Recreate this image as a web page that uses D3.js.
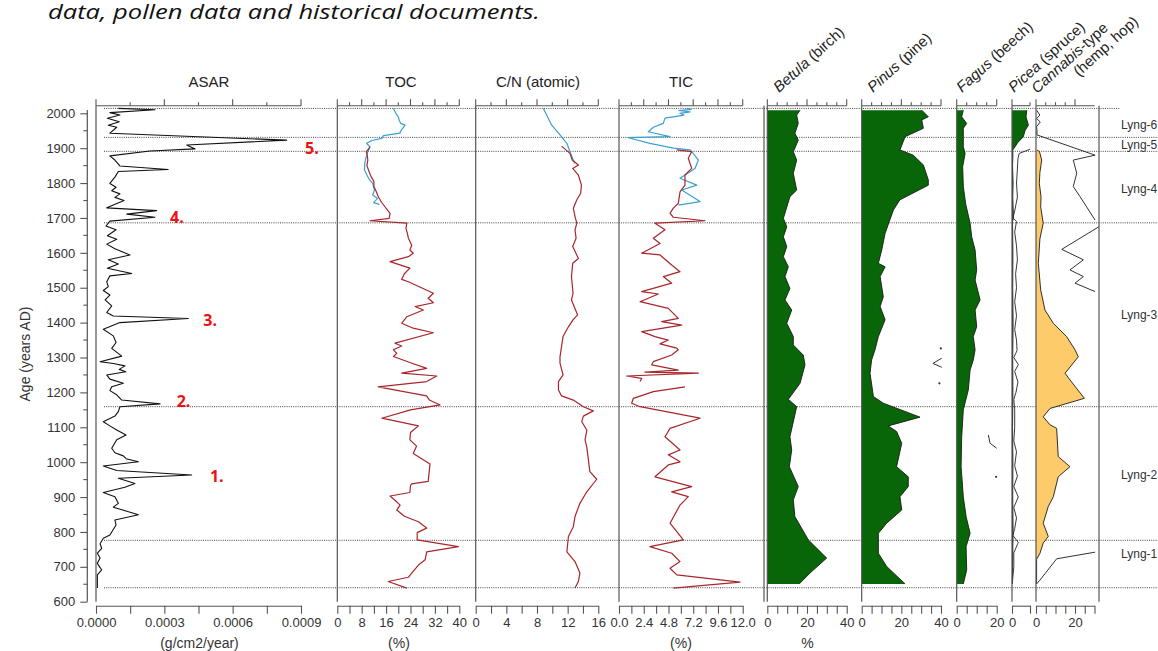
<!DOCTYPE html>
<html><head><meta charset="utf-8">
<script src="https://cdn.jsdelivr.net/npm/d3@7"></script>
<style>body{margin:0;background:#fff} svg{display:block}</style>
</head><body><svg id="c" width="1158" height="651"></svg>
<script>
// ---------------- DATA ----------------
const ageTicks = [600,700,800,900,1000,1100,1200,1300,1400,1500,1600,1700,1800,1900,2000];
const zoneAges = [2014, 1931, 1891, 1686, 1159, 776, 640];
const zoneNames = ["Lyng-6","Lyng-5","Lyng-4","Lyng-3","Lyng-2","Lyng-1"];
const zoneLabelAges = [1966, 1909, 1785, 1422, 963, 737];
const eventNames = ["1.","2.","3.","4.","5."];
const eventAges = [944, 1159, 1390, 1686, 1883];
const eventAsar = [0.00050, 0.000354, 0.000471, 0.000325, 0.000918];

// ASAR (g/cm2/year, in units of 1e-4)
const asar = [[2014,0.98],[2010,2.59],[2002,0.61],[1995,1.05],[1986,0.50],[1976,1.02],[1966,0.54],[1960,0.91],[1943,0.61],[1923,8.37],[1909,3.98],[1898,4.35],[1892,2.37],[1878,0.61],[1866,0.83],[1849,1.05],[1839,3.17],[1833,0.98],[1817,0.83],[1799,0.61],[1788,0.88],[1778,0.69],[1769,1.05],[1759,0.83],[1750,1.23],[1737,0.76],[1729,0.47],[1721,2.66],[1711,1.35],[1702,2.59],[1691,0.61],[1677,0.44],[1666,0.88],[1649,0.50],[1639,0.91],[1625,0.47],[1612,0.83],[1594,1.49],[1580,0.54],[1568,0.98],[1556,0.50],[1541,1.57],[1534,0.61],[1517,0.47],[1503,0.54],[1492,0.32],[1479,0.61],[1465,0.40],[1448,0.69],[1429,0.47],[1419,0.76],[1412,4.05],[1400,1.05],[1381,0.32],[1362,0.76],[1343,0.88],[1326,0.69],[1304,1.13],[1288,0.18],[1283,0.76],[1276,1.27],[1266,1.02],[1259,1.31],[1250,0.47],[1238,0.61],[1226,1.20],[1216,0.69],[1205,0.61],[1193,0.91],[1178,1.13],[1167,2.81],[1159,1.05],[1145,0.98],[1132,0.83],[1116,0.32],[1104,0.61],[1092,0.91],[1078,1.32],[1064,0.91],[1040,0.69],[1027,0.83],[1018,1.20],[1010,1.32],[1001,1.86],[989,0.32],[976,0.91],[963,4.20],[954,0.98],[939,1.71],[928,1.27],[913,0.32],[901,0.83],[882,0.98],[871,0.76],[849,1.86],[834,0.83],[820,0.88],[791,0.61],[782,0.32],[766,0.18],[753,0.25],[739,0.06],[725,0.18],[710,0.06],[691,0.25],[677,0.06],[639,0.06]];

// TOC (%)
const tocBlue = [[2014,18.4],[2000,19.2],[1990,20.0],[1980,20.3],[1971,20.8],[1966,22.2],[1947,20.6],[1943,20.6],[1936,15.1],[1928,14.6],[1922,11.3],[1914,9.6],[1904,10.7],[1890,10.0],[1870,9.3],[1855,9.0],[1838,8.9],[1823,9.7],[1810,10.5],[1799,11.6],[1780,12.2],[1766,11.6],[1756,13.2],[1744,11.9],[1739,13.8]];
const tocRed = [[1904,10.7],[1897,10.2],[1890,9.5],[1880,9.8],[1866,10.0],[1850,9.7],[1838,10.2],[1820,11.0],[1805,12.0],[1790,12.0],[1775,12.8],[1760,13.5],[1745,14.5],[1730,15.8],[1713,17.3],[1699,17.0],[1692,10.7],[1685,22.8],[1670,22.5],[1655,23.0],[1642,23.3],[1622,24.4],[1608,23.8],[1599,24.9],[1589,23.3],[1575,17.3],[1556,23.8],[1540,22.0],[1524,21.1],[1517,23.3],[1484,31.5],[1470,29.8],[1457,31.5],[1446,25.5],[1436,28.2],[1417,22.8],[1398,21.1],[1384,24.9],[1371,31.5],[1341,18.9],[1333,21.1],[1322,18.4],[1312,19.5],[1303,18.4],[1285,24.0],[1269,29.3],[1255,21.1],[1247,32.6],[1231,29.3],[1216,13.4],[1190,29.3],[1178,30.2],[1164,33.7],[1150,24.0],[1126,14.6],[1104,26.6],[1085,24.0],[1064,23.8],[1046,26.0],[1025,24.9],[995,30.4],[945,29.8],[938,24.4],[933,24.0],[913,23.8],[903,17.3],[890,19.0],[877,20.6],[863,19.5],[845,22.0],[829,26.6],[811,29.3],[798,26.2],[777,26.2],[758,39.7],[743,29.3],[720,28.8],[705,26.6],[682,24.4],[670,23.3],[658,16.7],[639,22.8]];

// C/N (atomic)
const cnBlue = [[2014,8.83],[1995,9.26],[1966,9.92],[1938,11.0],[1914,11.9],[1890,12.3],[1866,12.74],[1857,12.9]];
const cnRed = [[1906,11.2],[1885,12.3],[1866,12.6],[1852,13.4],[1842,12.66],[1823,13.4],[1794,13.8],[1771,13.7],[1752,13.2],[1728,12.74],[1704,12.96],[1685,13.2],[1666,12.96],[1642,13.1],[1618,12.66],[1584,13.4],[1570,12.66],[1532,12.5],[1484,12.7],[1465,12.5],[1422,13.3],[1408,12.7],[1388,12.1],[1360,11.4],[1331,11.2],[1302,11.0],[1284,11.0],[1250,11.4],[1231,10.8],[1207,10.8],[1190,11.2],[1178,12.74],[1159,14.05],[1147,15.35],[1132,14.05],[1116,13.84],[1092,14.5],[1064,14.27],[1043,14.5],[973,14.9],[951,15.8],[915,14.5],[882,13.6],[844,12.96],[815,12.74],[787,12.1],[743,11.9],[715,12.96],[682,13.6],[658,13.4],[639,12.96]];

// TIC (%)
const ticBlue = [[2014,6.56],[2011,7.0],[2008,5.8],[2004,6.9],[2000,5.9],[1995,6.3],[1990,5.27],[1986,4.46],[1971,4.30],[1960,3.33],[1947,2.84],[1933,4.95],[1930,0.9],[1914,3.0],[1900,5.27],[1895,6.89],[1885,7.2],[1866,7.7],[1842,7.37],[1814,5.92],[1794,7.54],[1780,6.08],[1747,7.86],[1737,5.75]];
const ticRed = [[1895,5.6],[1890,7.05],[1871,6.72],[1842,7.05],[1823,6.4],[1794,6.4],[1775,5.92],[1742,5.75],[1728,5.27],[1713,4.95],[1702,5.27],[1692,8.34],[1685,3.49],[1666,4.46],[1642,3.33],[1627,3.98],[1599,2.2],[1594,3.98],[1565,5.11],[1546,5.92],[1532,4.30],[1513,5.11],[1489,2.2],[1482,3.81],[1460,2.04],[1441,4.78],[1412,5.75],[1403,4.14],[1393,6.08],[1374,2.2],[1360,3.49],[1350,4.78],[1339,3.98],[1327,5.6],[1322,5.75],[1307,5.11],[1288,3.33],[1279,3.17],[1264,5.75],[1258,2.52],[1255,7.7],[1247,0.75],[1240,2.2],[1231,2.04],[1225,null],[1216,6.4],[1202,3.33],[1183,1.39],[1169,1.23],[1159,2.04],[1126,7.86],[1097,4.95],[1073,4.46],[1035,5.92],[1021,4.78],[1001,5.92],[992,4.78],[958,3.49],[930,7.05],[915,5.11],[901,6.72],[877,5.92],[825,4.95],[777,6.24],[758,3.0],[739,5.11],[715,5.92],[696,4.95],[677,5.6],[656,11.74],[639,5.27]];

// Pollen (%)
const betula = [[2009,16.5],[1995,14.8],[1971,15.6],[1943,13.9],[1923,15.6],[1890,13.1],[1866,14.8],[1828,13.1],[1780,14.8],[1761,11.4],[1699,8.1],[1675,9.8],[1646,8.1],[1618,9.8],[1589,8.1],[1560,10.6],[1532,8.9],[1498,11.4],[1465,8.9],[1436,12.3],[1398,9.8],[1360,13.1],[1336,13.1],[1307,18.1],[1279,19.0],[1226,16.5],[1180,10.6],[1159,14.8],[1073,11.4],[1035,12.3],[987,11.1],[930,15.6],[892,13.1],[844,13.9],[777,20.7],[725,29.9],[682,21.5],[651,16.1]];
const pinus = [[2009,30.3],[1990,33.6],[1981,30.3],[1957,31.1],[1933,21.9],[1895,19.3],[1880,26.0],[1852,31.1],[1809,33.6],[1794,33.6],[1752,19.3],[1723,16.0],[1656,11.8],[1608,10.1],[1570,8.4],[1560,11.8],[1532,9.3],[1474,10.9],[1446,9.3],[1408,11.8],[1360,8.4],[1322,6.7],[1293,5.0],[1255,4.2],[1188,5.9],[1169,10.9],[1129,29.4],[1104,13.4],[1088,17.6],[1054,20.2],[987,17.6],[958,23.5],[930,23.5],[901,19.3],[863,20.2],[825,12.6],[796,8.4],[739,8.4],[701,12.6],[651,21.9]];
const fagus = [[2009,3.3],[1990,2.5],[1971,5.0],[1957,3.3],[1904,3.3],[1885,4.2],[1847,3.0],[1790,3.3],[1740,4.5],[1685,6.7],[1646,7.5],[1608,9.2],[1551,10.0],[1522,9.2],[1465,11.7],[1436,9.2],[1388,10.0],[1360,8.3],[1322,9.2],[1293,8.3],[1264,6.7],[1207,5.8],[1150,3.3],[1073,2.5],[987,2.2],[901,3.3],[844,4.7],[796,6.7],[758,4.7],[691,5.0],[651,3.3]];
const picea = [[2009,8.2],[1990,7.8],[1975,8.6],[1966,9.1],[1950,7.2],[1933,6.3],[1915,3.0],[1904,1.7],[1895,0.4],[1880,0.5],[1850,0.3],[1800,0.6],[1760,0.4],[1700,0.8],[1690,0.3],[1600,0.5],[1500,0.4],[1400,0.6],[1300,0.4],[1200,0.5],[1100,0.3],[1000,0.5],[900,0.4],[800,0.6],[700,0.3],[651,0.2]];
const cannabis = [[1895,0.5],[1890,1.8],[1885,2.05],[1866,2.9],[1830,2.0],[1799,1.7],[1760,2.6],[1732,2.4],[1685,3.7],[1640,2.0],[1570,1.2],[1494,2.4],[1436,4.6],[1398,8.9],[1360,15.7],[1322,20.0],[1302,21.7],[1255,14.9],[1236,17.4],[1183,24.8],[1154,7.2],[1130,3.7],[1107,7.2],[1097,10.6],[1016,11.4],[987,17.4],[958,11.4],[901,8.9],[873,6.3],[825,3.7],[787,6.3],[768,3.7],[739,2.05],[721,0.3],[700,0.3],[651,0.3]];

// Exaggeration curves (thin black lines)
const piceaExag = [[1897,10],[1885,4],[1870,3.3],[1840,3],[1800,2.5],[1760,3],[1720,1.5],[1700,0.5],[1690,2.5],[1660,1.5],[1620,2.5],[1580,3],[1540,2],[1500,2.5],[1460,1.5],[1420,2.5],[1380,1.5],[1350,2.5],[1320,2.8],[1300,1],[1280,3.5],[1260,1.5],[1230,3.3],[1200,2.2],[1180,1],[1150,1.5],[1100,1.5],[1060,1],[1030,2.5],[990,1.5],[960,3],[930,1],[900,3.5],[870,1],[840,2.5],[810,1.5],[790,0.5],[770,3.5],[740,1],[700,1],[660,0.3],[651,0]];
const cannabisExag = [[2009,0.3],[1995,2.0],[1985,0.3],[1975,2.2],[1962,0.3],[1950,0.5],[1938,0.5],[1880,30.3],[1866,19.1],[1828,20.9],[1790,19.1],[1761,22.6],[1694,30.3],[1685,null],[1675,32.3],[1610,13.2],[1580,24.3],[1551,17.4],[1532,24.3],[1513,20.0],[1489,30.3],[1000,null],[742,30.3],[723,10.6],[662,2.05],[651,0.3]];
const pinusExag = [[1298,40.4],[1283,35.9],[1272,40.4]];
const pinusDots = [[1326,39.9],[1226,39.2]];
const fagusExag = [[1078,15.8],[1054,16.7],[1040,20.0]];
const fagusDots = [[958,19.7]];

// ---------------- LAYOUT ----------------
const svg = d3.select("#c");
const FONT = "'Liberation Sans', Arial, sans-serif";
const y = d3.scaleLinear().domain([600,2000]).range([601.7,113.3]);
const TOP = 105.7, BOT = y(600), AXB = 605.7;
const RED = "#a8262b", BLUE = "#3ba0cf", GREEN = "#086508", YELLOW = "#fecb6b";

const P = {
  asar:{dom:[0,0.0009], rng:[96,301], n:6, every:2, fmt:d3.format(".4f")},
  toc:{dom:[0,40], rng:[337.3,459.3], n:10, every:2, fmt:d3.format("d")},
  cn:{dom:[0,16], rng:[475.7,598.3], n:8, every:2, fmt:d3.format("d")},
  tic:{dom:[0,12], rng:[619,742.7], n:10, every:2, fmt:d3.format(".1f")},
  betula:{dom:[0,40], rng:[767.3,846.7], n:8, every:4, fmt:d3.format("d")},
  pinus:{dom:[0,40], rng:[861.7,941], n:8, every:4, fmt:d3.format("d")},
  fagus:{dom:[0,20], rng:[956.7,996.7], n:4, every:4, fmt:d3.format("d")},
  picea:{dom:[0,10], rng:[1012,1030], n:1, every:2, fmt:d3.format("d")},
  cannabis:{dom:[0,30], rng:[1036,1094.5], n:6, every:4, topN:4, fmt:d3.format("d")}
};
for (const k in P) P[k].x = d3.scaleLinear().domain(P[k].dom).range(P[k].rng);

// title fragment
svg.append("text").attr("x",48).attr("y",19)
  .attr("font-family","'Open Sans', 'Noto Sans', sans-serif").attr("font-style","italic")
  .attr("font-size",20).attr("fill","#111")
  .attr("textLength",492).attr("lengthAdjust","spacingAndGlyphs")
  .text("data, pollen data and historical documents.");

// zone dotted lines
const gz = svg.append("g");
zoneAges.forEach((a,i)=>{
  gz.append("line").attr("x1",104).attr("x2", i===0?1120:1158)
    .attr("y1",y(a)).attr("y2",y(a))
    .attr("stroke","#444").attr("stroke-width",1).attr("stroke-dasharray","1,1.2");
});

function lineFor(p, data, scaleV){
  return d3.line().defined(d=>d[1]!==null)
    .x(d=>p.x(d[1]*(scaleV||1))).y(d=>y(d[0]))(data);
}
function areaFor(p, data){
  return d3.area().x0(p.x(0)).x1(d=>p.x(d[1])).y(d=>y(d[0]))(data);
}

const defs = svg.append("defs");
["cannabis","picea"].forEach(k=>{
  defs.append("clipPath").attr("id","clip-"+k).append("rect")
    .attr("x",P[k].x(0)).attr("y",TOP).attr("width",(k==="cannabis"?1099:P[k].rng[1]+3)-P[k].x(0)).attr("height",BOT-TOP);
});

// ASAR
svg.append("path").attr("d",lineFor(P.asar, asar, 1e-4)).attr("fill","none")
  .attr("stroke","#111").attr("stroke-width",1.1).attr("stroke-linejoin","round");

// TOC, C/N, TIC
[[P.toc,tocBlue,BLUE],[P.toc,tocRed,RED],[P.cn,cnBlue,BLUE],[P.cn,cnRed,RED],[P.tic,ticBlue,BLUE],[P.tic,ticRed,RED]]
.forEach(([p,d,c])=>{
  svg.append("path").attr("d",lineFor(p,d)).attr("fill","none")
    .attr("stroke",c).attr("stroke-width",1.2).attr("stroke-linejoin","round");
});

// pollen areas
[[P.betula,betula,GREEN],[P.pinus,pinus,GREEN],[P.fagus,fagus,GREEN],[P.picea,picea,GREEN],[P.cannabis,cannabis,YELLOW]]
.forEach(([p,d,c])=>{
  svg.append("path").attr("d",areaFor(p,d)).attr("fill",c).attr("stroke","none");
  svg.append("path").attr("d",lineFor(p,d)).attr("fill","none").attr("stroke","#1a1a1a").attr("stroke-width",0.9);
});

// exaggeration curves
svg.append("path").attr("d",lineFor(P.picea,piceaExag)).attr("fill","none").attr("stroke","#222").attr("stroke-width",0.9).attr("clip-path","url(#clip-picea)");
svg.append("path").attr("d",lineFor(P.cannabis,cannabisExag)).attr("fill","none").attr("stroke","#333").attr("stroke-width",1).attr("clip-path","url(#clip-cannabis)");
svg.append("path").attr("d",lineFor(P.pinus,pinusExag)).attr("fill","none").attr("stroke","#333").attr("stroke-width",1);
svg.append("path").attr("d",lineFor(P.fagus,fagusExag)).attr("fill","none").attr("stroke","#333").attr("stroke-width",1);
[[P.pinus,pinusDots],[P.fagus,fagusDots]].forEach(([p,d])=>{
  svg.selectAll(null).data(d).enter().append("circle")
    .attr("cx",e=>p.x(e[1])).attr("cy",e=>y(e[0])).attr("r",1.1).attr("fill","#333");
});

// panel vertical lines
const vlines = [P.asar.x(0), P.toc.x(0), P.cn.x(0), P.tic.x(0), 764, P.betula.x(0), P.pinus.x(0), P.fagus.x(0), P.picea.x(0), P.cannabis.x(0), 1099];
vlines.forEach(x=>{
  svg.append("line").attr("x1",x).attr("x2",x).attr("y1",TOP).attr("y2",BOT)
    .attr("stroke","#555").attr("stroke-width",1.2);
});

// panel axes
for (const k in P){
  const p = P[k];
  const step = (p.dom[1]-p.dom[0])/p.n;
  const ticks = d3.range(p.n+1).map(i=>p.dom[0]+i*step);
  const topTicks = p.topN!==undefined ? ticks.slice(0,p.topN+1) : ticks;
  const g = svg.append("g").attr("stroke","#555").attr("stroke-width",1.1);
  g.append("line").attr("x1",p.rng[0]).attr("x2",p.rng[1]).attr("y1",TOP).attr("y2",TOP);
  topTicks.forEach((t,i)=>{
    const len = (i%p.every===0)?6.5:3.5;
    g.append("line").attr("x1",p.x(t)).attr("x2",p.x(t)).attr("y1",TOP).attr("y2",TOP-len);
  });
  const ax = d3.axisBottom(p.x).tickValues(ticks).tickSize(8).tickSizeOuter(0).tickPadding(4)
    .tickFormat((d,i)=> i%p.every===0 ? p.fmt(d) : "");
  const gb = svg.append("g").attr("transform",`translate(0,${AXB})`).call(ax);
  gb.select(".domain").attr("stroke","#555").attr("stroke-width",1.1);
  gb.selectAll(".tick line").attr("stroke","#555").attr("stroke-width",1.1);
  gb.selectAll(".tick text").attr("font-family",FONT).attr("font-size",13).attr("fill","#333");
}

// left age axis
const ay = d3.axisLeft(y).tickValues(ageTicks).tickSize(7).tickSizeOuter(0).tickPadding(5).tickFormat(d3.format("d"));
const gy = svg.append("g").attr("transform","translate(87.3,0)").call(ay);
gy.select(".domain").remove();
gy.append("line").attr("x1",0).attr("x2",0).attr("y1",110).attr("y2",BOT).attr("stroke","#555").attr("stroke-width",1.2);
gy.selectAll(".tick line").attr("stroke","#555").attr("stroke-width",1.1);
gy.selectAll(".tick text").attr("font-family",FONT).attr("font-size",13).attr("fill","#333");
gy.selectAll(null).data(d3.range(650,2000,100)).enter().append("line")
  .attr("x1",0).attr("x2",-4).attr("y1",d=>y(d)).attr("y2",d=>y(d)).attr("stroke","#555").attr("stroke-width",1.1);
svg.append("text").attr("transform",`translate(30,${y(1310)}) rotate(-90)`)
  .attr("text-anchor","middle").attr("font-family",FONT).attr("font-size",14).attr("fill","#333")
  .text("Age (years AD)");

// headers
const headers = [["ASAR",209],["TOC",401],["C/N (atomic)",538],["TIC",681]];
headers.forEach(([t,cx])=>{
  svg.append("text").attr("x",cx).attr("y",87)
    .attr("text-anchor","middle").attr("font-family",FONT).attr("font-size",15).attr("fill","#222").text(t);
});

// pollen labels (rotated)
const pollenLabels = [["Betula"," (birch)",779,93],["Pinus"," (pine)",873,93],["Fagus"," (beech)",962,93],["Picea"," (spruce)",1014,93],["Cannabis","-type",1037,94]];
pollenLabels.forEach(([it,rest,x0,y0])=>{
  const t = svg.append("text").attr("transform",`translate(${x0},${y0}) rotate(-42)`)
    .attr("font-family",FONT).attr("font-size",15).attr("fill","#222");
  t.append("tspan").attr("font-style","italic").text(it);
  t.append("tspan").text(rest);
});
svg.append("text").attr("transform",`translate(1079,77) rotate(-42)`)
  .attr("font-family",FONT).attr("font-size",15).attr("fill","#222").text("(hemp, hop)");

// bottom unit labels
[["(g/cm2/year)",199.5],["(%)",399],["(%)",681],["%",807.5]].forEach(([t,x])=>{
  svg.append("text").attr("x",x).attr("y",648).attr("text-anchor","middle")
    .attr("font-family",FONT).attr("font-size",14).attr("fill","#333").text(t);
});

// zone labels
zoneNames.forEach((n,i)=>{
  svg.append("text").attr("x",1121).attr("y",y(zoneLabelAges[i])).attr("dy","0.35em")
    .attr("font-family",FONT).attr("font-size",12).attr("fill","#333").text(n);
});

// event numbers
eventNames.forEach((n,i)=>{
  svg.append("text").attr("x",P.asar.x(eventAsar[i])).attr("y",y(eventAges[i]))
    .attr("font-family","'Open Sans', 'Liberation Sans', sans-serif").attr("font-weight","bold")
    .attr("font-size",16).attr("fill","#ee1111").text(n);
});
</script></body></html>
